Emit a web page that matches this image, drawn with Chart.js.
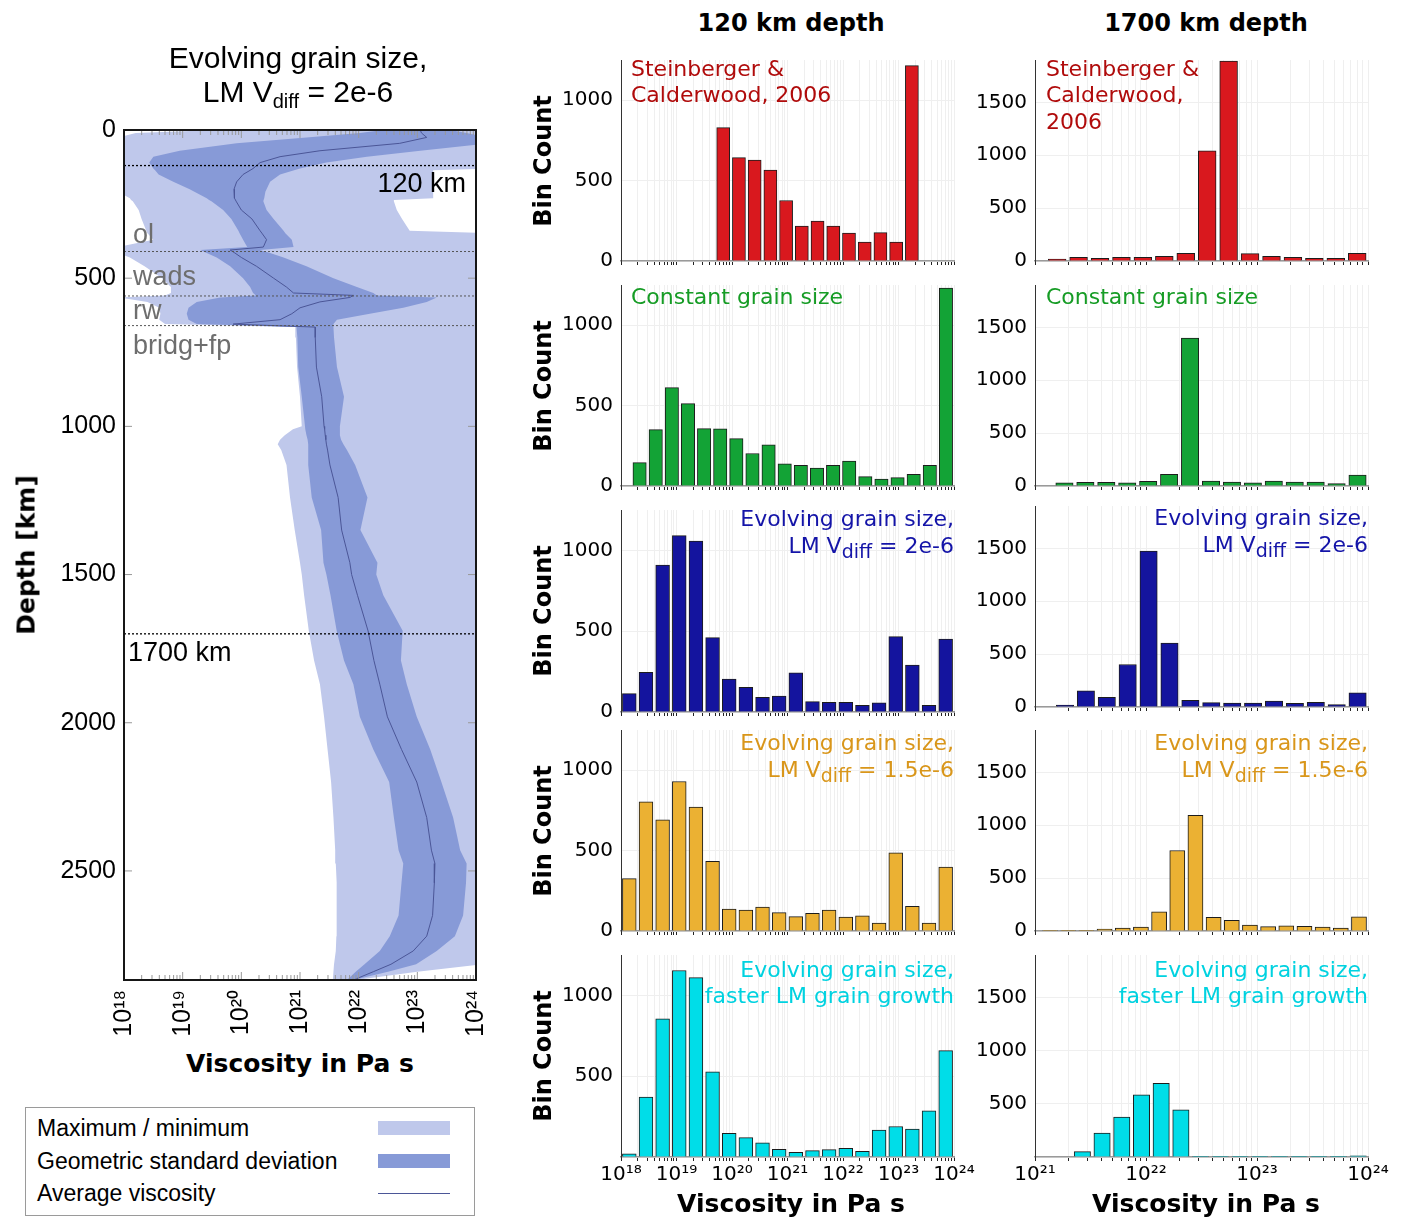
<!DOCTYPE html>
<html>
<head>
<meta charset="utf-8">
<script src="https://cdn.jsdelivr.net/npm/chart.js@4.4.1/dist/chart.umd.min.js"></script>
<style>
  body{margin:0;background:#fff;width:1401px;height:1219px;position:relative;overflow:hidden}
  canvas{position:absolute}
  .t{position:absolute;white-space:nowrap;font-family:"DejaVu Sans",sans-serif;line-height:1}
  .lib{font-family:"Liberation Sans",Arial,sans-serif}
  .b{font-weight:bold}
  #legend{position:absolute;left:25px;top:1107px;width:450px;height:109px;border:1px solid #9a9a9a;box-sizing:border-box}
</style>
</head>
<body>
<canvas id="profile"></canvas>
<canvas id="h120_0"></canvas><canvas id="h120_1"></canvas><canvas id="h120_2"></canvas><canvas id="h120_3"></canvas><canvas id="h120_4"></canvas>
<canvas id="h1700_0"></canvas><canvas id="h1700_1"></canvas><canvas id="h1700_2"></canvas><canvas id="h1700_3"></canvas><canvas id="h1700_4"></canvas>
<div id="legend"></div>
<script>
// ---------- depth profile (viscosity as log10 Pa s) ----------
const depthKm = [0,10,25,45,70,90,110,130,136,150,175,200,208,230,236,240,270,300,340,348,370,395,405,415,430,460,500,530,550,558,565,580,600,620,640,655,665,700,800,900,1000,1010,1030,1045,1060,1080,1130,1240,1350,1460,1500,1570,1690,1790,1870,1980,2090,2200,2320,2430,2475,2540,2650,2720,2770,2815,2840,2868];
const viscMax = [24.2,24.2,24.2,24.2,24.2,24.2,24.2,24.2,23.27,23.27,23.27,23.27,23.27,23.27,22.6,22.6,22.65,22.74,22.87,24.2,24.2,24.2,24.2,24.2,24.2,24.2,24.2,24.2,24.2,24.2,24.2,24.2,24.2,24.2,24.2,24.2,24.2,24.2,24.2,24.2,24.2,24.2,24.2,24.2,24.2,24.2,24.2,24.2,24.2,24.2,24.2,24.2,24.2,24.2,24.2,24.2,24.2,24.2,24.2,24.2,24.2,24.2,24.2,24.2,24.2,24.1,23.0,21.95];
const viscMin = [19.6,18.2,17.9,17.9,17.9,17.9,17.9,17.9,17.9,17.9,17.9,17.9,17.9,18.1,18.12,18.15,18.25,18.3,18.38,18.4,18.5,17.9,17.9,17.9,18.1,18.35,18.65,18.8,18.8,18.7,17.9,18.4,18.6,18.62,18.6,18.7,20.92,20.93,20.95,21.0,21.03,20.88,20.74,20.66,20.62,20.68,20.77,20.83,20.91,21.0,21.03,21.07,21.15,21.24,21.34,21.41,21.47,21.53,21.57,21.6,21.61,21.625,21.625,21.62,21.61,21.58,21.57,21.56];
const stdLow = [22.42,22.02,21.11,19.92,18.95,18.5,18.43,18.5,18.53,18.59,18.84,19.12,19.2,19.41,19.45,19.49,19.69,19.83,19.95,19.97,20.03,20.1,19.3,19.41,19.58,19.81,20.03,20.15,20.2,20.25,19.64,19.24,19.1,19.07,19.1,19.24,20.94,20.955,20.97,21.03,21.085,21.09,21.11,21.13,21.14,21.14,21.14,21.2,21.36,21.4,21.45,21.52,21.625,21.75,21.91,22.02,22.25,22.52,22.6,22.68,22.76,22.73,22.68,22.53,22.36,22.1,21.95,21.8];
const stdHigh = [23.56,23.84,24.2,24.2,23.05,22.14,21.45,21.0,20.9,20.66,20.49,20.43,20.41,20.39,20.38,20.375,20.43,20.55,20.72,20.75,20.86,20.89,20.32,20.49,20.72,21.11,21.57,21.97,22.25,22.31,23.33,23.16,22.76,22.19,21.63,21.57,21.57,21.58,21.63,21.75,21.68,21.68,21.68,21.7,21.74,21.8,21.94,22.15,22.03,22.32,22.3,22.42,22.75,22.72,22.82,22.99,23.22,23.41,23.61,23.73,23.84,23.83,23.78,23.64,23.33,22.98,22.5,21.91];
const viscAvg = [23.05,23.07,23.16,22.7,21.34,20.66,20.32,20.2,20.15,20.03,19.92,19.875,19.875,19.89,19.9,19.91,20.0,20.18,20.32,20.35,20.43,20.375,19.81,19.89,20.0,20.26,20.55,20.77,20.89,21.91,21.85,21.34,21.0,20.86,20.66,19.86,21.26,21.26,21.28,21.37,21.41,21.42,21.43,21.44,21.45,21.47,21.51,21.65,21.71,21.85,21.88,21.98,22.16,22.26,22.36,22.49,22.73,22.99,23.16,23.24,23.3,23.29,23.26,23.16,22.93,22.55,22.25,21.91];
const boundaryKm = [120, 410, 560, 660, 1700];
const depthTicks = [0, 500, 1000, 1500, 2000, 2500];

// ---------- histograms: bin lower edge, bin width (log10 Pa s) and counts ----------
const binLo120 = [19.70, 18.19, 18.0, 18.0, 18.0];
const binW120  = [0.2833, 0.2905, 0.3, 0.3, 0.3];
const binLo1700 = [21.103, 21.171, 21.176, 21.054, 20.983];
const binW1700  = [0.1931, 0.1886, 0.1883, 0.1637, 0.1775];

const sc120    = [829,643,628,566,376,217,248,217,174,118,176,118,1215];
const cgs120   = [145,351,612,512,357,355,295,202,256,138,128,112,128,155,58,43,52,72,128,1231];
const egs2_120 = [114,246,909,1091,1058,460,203,153,91,99,242,64,60,60,41,56,466,290,41,451];
const egs15_120= [326,804,692,930,771,434,136,130,149,114,89,110,130,87,95,50,486,153,50,397];
const fast120  = [19,371,855,1154,1110,527,147,120,87,48,29,39,46,54,35,166,189,172,286,658];

const sc1700    = [19,35,25,35,35,44,73,1041,1890,70,44,35,25,25,73];
const cgs1700   = [31,35,35,31,44,110,1399,47,38,31,47,38,38,22,104];
const egs2_1700 = [19,152,92,402,1475,604,63,41,38,38,57,35,44,22,133];
const egs15_1700= [3,3,3,19,28,38,182,761,1094,129,101,57,41,50,44,38,28,135];
const fast1700  = [0,0,50,225,375,584,694,444,3,3,3,3,3,3,3,3,12];

const countTicks120 = [0, 500, 1000];
const countTicks1700 = [0, 500, 1000, 1500];

const modelNames = [["Steinberger &","Calderwood, 2006"],["Constant grain size"],["Evolving grain size,","LM V<sub>diff</sub> = 2e-6"],["Evolving grain size,","LM V<sub>diff</sub> = 1.5e-6"],["Evolving grain size,","faster LM grain growth"]];
const barColors  = ["#d9181e","#13a336","#14149e","#ebb133","#00dde8"];
const textColors = ["#b00b0b","#169c25","#1414a8","#d9961a","#00d2e0"];

Chart.defaults.animation = false;
Chart.defaults.font.family = "DejaVu Sans";
Chart.defaults.plugins.legend.display = false;
Chart.defaults.plugins.tooltip.enabled = false;

const supMap = {"0":"⁰","1":"¹","2":"²","3":"³","4":"⁴","5":"⁵","6":"⁶","7":"⁷","8":"⁸","9":"⁹","-":"⁻"};
const pow10 = v => "10" + String(v).split("").map(c => supMap[c]).join("");
const setTicks = vals => s => { s.ticks = vals.map(v => ({value: v})); };
const logTicks = (a, b) => { const t = []; for (let n = a; n < b; n++) for (let k = 1; k < 10; k++) t.push(n + Math.log10(k)); t.push(b); return t; };
const isMajor = v => Math.abs(v - Math.round(v)) < 1e-9;

function place(id, left, top, w, h){
  const c = document.getElementById(id);
  c.width = w; c.height = h;
  c.style.left = left + "px"; c.style.top = top + "px";
  return c;
}
function txt(html, x, y, align, cls, css){
  const d = document.createElement("div");
  d.className = "t " + (cls || "");
  d.innerHTML = html;
  const tx = align === "l" ? "0" : align === "r" ? "-100%" : "-50%";
  d.style.cssText = `left:${x}px;top:${y}px;transform:translate(${tx},-50%);` + (css || "");
  document.body.appendChild(d);
  return d;
}

// frame and inward ticks round the profile plot
const frame = {
  id: "frame",
  afterDatasetsDraw(chart){
    const {ctx, chartArea: a, scales} = chart;
    ctx.save();
    ctx.strokeStyle = "#999"; ctx.lineWidth = 1;
    ctx.beginPath();
    logTicks(18, 24).forEach(v => {
      const x = scales.x.getPixelForValue(v), l = isMajor(v) ? 8 : 5;
      ctx.moveTo(x, a.bottom); ctx.lineTo(x, a.bottom - l);
      ctx.moveTo(x, a.top); ctx.lineTo(x, a.top + l);
    });
    depthTicks.forEach(v => {
      const y = scales.y.getPixelForValue(v);
      ctx.moveTo(a.left, y); ctx.lineTo(a.left + 8, y);
      ctx.moveTo(a.right, y); ctx.lineTo(a.right - 8, y);
    });
    ctx.stroke();
    ctx.strokeStyle = "#161616"; ctx.lineWidth = 2;
    ctx.strokeRect(a.left, a.top, a.right - a.left, a.bottom - a.top);
    ctx.restore();
  }
};

// ---------- left: viscosity profile ----------
const band = (hi, lo) => [{x:25, y:-40}]
  .concat(depthKm.map((d,i) => ({x:hi[i], y:d})))
  .concat(depthKm.map((d,i) => ({x:lo[i], y:d})).reverse())
  .concat([{x:17, y:-40}]);

const profDatasets = [
  {data: band(viscMax, viscMin), fill:"shape", backgroundColor:"#bfc8eb", borderWidth:0, pointRadius:0, order:3},
  {data: band(stdHigh, stdLow), fill:"shape", backgroundColor:"#879ad7", borderWidth:0, pointRadius:0, order:2},
  {data: depthKm.map((d,i) => ({x:viscAvg[i], y:d})), borderColor:"#4b5697", borderWidth:1, pointRadius:0, fill:false, order:1}
];
boundaryKm.forEach(d => profDatasets.push({
  data:[{x:18,y:d},{x:24,y:d}], borderColor: (d===120||d===1700) ? "#000" : "#555",
  borderWidth: (d===120||d===1700) ? 1.3 : 1, borderDash:[2,2], pointRadius:0, fill:false, order:0
}));

place("profile", 0, 0, 490, 1045);
new Chart("profile", {
  type: "line",
  data: {datasets: profDatasets},
  options: {
    responsive: false,
    layout: {padding: {top:130, right:14, left:0, bottom:0}},
    scales: {
      x: {type:"linear", min:18, max:24, grid:{display:false, drawTicks:false}, border:{display:false},
          afterBuildTicks: setTicks([18,19,20,21,22,23,24]),
          ticks:{autoSkip:false, minRotation:90, maxRotation:90, padding:10, color:"#000",
                 font:{family:"Liberation Sans", size:25}, callback: v => pow10(v)},
          afterFit: s => { s.height = 65; s.paddingLeft = 0; s.paddingRight = 0; }},
      y: {type:"linear", reverse:true, min:0, max:2868, grid:{display:false, drawTicks:false}, border:{display:false},
          afterBuildTicks: setTicks(depthTicks),
          ticks:{padding:8, color:"#000", font:{family:"Liberation Sans", size:25}, callback: v => String(v)},
          afterFit: s => { s.width = 124; s.paddingTop = 0; s.paddingBottom = 0; }}
    }
  },
  plugins: [frame]
});

// ---------- right: histograms ----------
function hist(id, rect, lo, w, counts, color, ymax, xmin, xmax, yTicks, last){
  const [L, T, R, B] = rect;
  const yw = 80, xh = last ? 45 : 12, pt = 8, pr = last ? 32 : 14;
  place(id, L - yw, T - pt, R - L + yw + pr, B - T + pt + xh);
  const data = counts.map((c,i) => ({x: lo + (i + 0.5) * w, y: c}));
  new Chart(id, {
    type: "bar",
    data: {datasets: [{data, backgroundColor: color, borderColor: "#1c1c1c", borderWidth: 1,
                       barThickness: "flex", categoryPercentage: 1, barPercentage: 0.83}]},
    options: {
      responsive: false,
      layout: {padding: {top: pt, right: pr, left: 0, bottom: 0}},
      scales: {
        x: {type: "linear", min: xmin, max: xmax, offset: false,
            afterBuildTicks: setTicks(logTicks(xmin, xmax)),
            grid: {offset: false, color: "#efefef", tickColor: "#222", tickLength: 4},
            border: {color: "#9a9a9a", width: 1.5},
            ticks: {autoSkip: false, maxRotation: 0, minRotation: 0, padding: 2, color: "#000", font: {size: 20},
                    callback: v => (last && isMajor(v)) ? pow10(Math.round(v)) : ""},
            afterFit: s => { s.height = xh; s.paddingLeft = 0; s.paddingRight = 0; }},
        y: {min: 0, max: ymax, grid: {color: "#efefef", drawTicks: false}, border: {color: "#333", width: 1},
            afterBuildTicks: setTicks(yTicks),
            ticks: {padding: 8, color: "#000", font: {size: 20},
                    callback: v => (last && v === 0) ? "" : String(v)},
            afterFit: s => { s.width = yw; s.paddingTop = 0; s.paddingBottom = 0; }}
      }
    }
  });
}

const rows1 = [[621,60,954,261],[621,285,954,486],[621,510,954,712],[621,730,954,931],[621,955,954,1157]];
const rows2 = [[1035,60,1368,261],[1035,285,1368,486],[1035,506,1368,707],[1035,730,1368,931],[1035,955,1368,1157]];
const c120 = [sc120, cgs120, egs2_120, egs15_120, fast120];
const c1700 = [sc1700, cgs1700, egs2_1700, egs15_1700, fast1700];
for (let i = 0; i < 5; i++){
  hist("h120_" + i, rows1[i], binLo120[i], binW120[i], c120[i], barColors[i], 1250, 18, 24, countTicks120, i === 4);
  hist("h1700_" + i, rows2[i], binLo1700[i], binW1700[i], c1700[i], barColors[i], 1900, 21, 24, countTicks1700, i === 4);
}

// ---------- texts ----------
txt("120 km depth", 791, 23, "c", "b", "font-size:24px");
txt("1700 km depth", 1206, 23, "c", "b", "font-size:24px");
const labelY = [[69,95],[297],[519,546],[743,770],[970,996]];
const labelY2 = [[69,95,122],[297],[518,545],[743,770],[970,996]];
const sub = s => s.replace("<sub>diff</sub>", '<span style="font-size:19px;position:relative;top:5px">diff</span>');
for (let i = 0; i < 5; i++){
  const a = i < 2 ? "l" : "r";
  const x1 = i < 2 ? 631 : 954, x2 = i < 2 ? 1046 : 1368;
  modelNames[i].forEach((s, j) => txt(sub(s), x1, labelY[i][j], a, "", `font-size:22px;color:${textColors[i]}`));
  const names2 = i === 0 ? ["Steinberger &", "Calderwood,", "2006"] : modelNames[i];
  names2.forEach((s, j) => txt(sub(s), x2, labelY2[i][j], a, "", `font-size:22px;color:${textColors[i]}`));
  const cy = (rows1[i][1] + rows1[i][3]) / 2;
  txt("Bin Count", 543, cy, "c", "b", "font-size:24px;transform:translate(-50%,-50%) rotate(-90deg)");
}
txt("Viscosity in Pa s", 791, 1203, "c", "b", "font-size:25px");
txt("Viscosity in Pa s", 1206, 1203, "c", "b", "font-size:25px");

txt("Evolving grain size,", 298, 58, "c", "lib", "font-size:30px");
txt('LM V<span style="font-size:20px;position:relative;top:6px">diff</span> = 2e-6', 298, 92, "c", "lib", "font-size:30px");
txt("120 km", 466, 183, "r", "lib", "font-size:27px");
txt("1700 km", 128, 652, "l", "lib", "font-size:27px");
txt("ol", 133, 234, "l", "lib", "font-size:27px;color:#6e6e6e");
txt("wads", 133, 276, "l", "lib", "font-size:27px;color:#6e6e6e");
txt("rw", 133, 310, "l", "lib", "font-size:27px;color:#6e6e6e");
txt("bridg+fp", 133, 345, "l", "lib", "font-size:27px;color:#6e6e6e");
txt("Depth [km]", 26, 555, "c", "b", "font-size:25px;transform:translate(-50%,-50%) rotate(-90deg)");
txt("Viscosity in Pa s", 300, 1063, "c", "b", "font-size:25px");

// legend
const lg = [["Maximum / minimum", "#bfc8eb", 14], ["Geometric standard deviation", "#879ad7", 14], ["Average viscosity", "#4b5697", 1]];
lg.forEach(([name, col, h], i) => {
  const y = 1128 + i * 32.5;
  txt(name, 37, y, "l", "lib", "font-size:23px");
  const p = document.createElement("div");
  p.style.cssText = `position:absolute;left:378px;top:${y - h / 2}px;width:72px;height:${h}px;background:${col}`;
  document.body.appendChild(p);
});
</script>
</body>
</html>
